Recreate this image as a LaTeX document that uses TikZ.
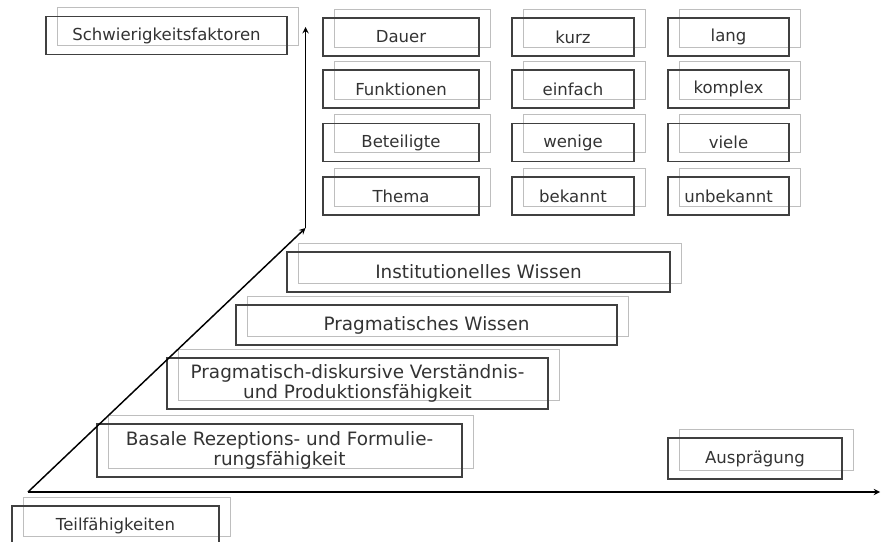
\documentclass[tikz,border=0pt]{standalone}
\usepackage{fontspec}
\setmainfont{DejaVu Sans}
\usetikzlibrary{shadows}

\definecolor{stufenrand}{RGB}{64,64,64}
\definecolor{stufenschatten}{RGB}{190,190,190}
\definecolor{stufentext}{RGB}{51,51,51}

\begin{document}
\begin{tikzpicture}[x=.75pt,y=-.75pt,>=stealth,
      faktor/.style={draw=stufenrand,line width=.9pt,text=stufentext,
        minimum height=28.5pt,inner sep=2pt,font=\fontsize{12.4}{15}\selectfont,
        copy shadow={shadow xshift=8.25pt,shadow yshift=6.75pt,
          draw=stufenschatten,line width=.6pt,fill=none}},
      stufe/.style={faktor,align=center,font=\fontsize{13.8}{14.6}\selectfont},
      achse/.style={->,line width=1.1pt,black}]
  \useasboundingbox (0,0) rectangle (881,542);
  % Schwierigkeitsfaktoren
  \node[faktor,minimum width=180.75pt] (schwierigkeit) at (166.5,35.5) {Schwierigkeitsfaktoren};
  \node[faktor,minimum width=117pt] (dauer) at (401,37) {Dauer};
  \node[faktor,minimum width=117pt] (funktionen) at (401,89) {Funktionen};
  \node[faktor,minimum width=117pt] (beteiligte) at (401,142.5) {Beteiligte};
  \node[faktor,minimum width=117pt] (thema) at (401,196) {Thema};
  \node[faktor,minimum width=91.5pt] (kurz) at (573,37) {kurz};
  \node[faktor,minimum width=91.5pt] (einfach) at (573,89) {einfach};
  \node[faktor,minimum width=91.5pt] (wenige) at (573,142.5) {wenige};
  \node[faktor,minimum width=91.5pt] (bekannt) at (573,196) {bekannt};
  \node[faktor,minimum width=90.75pt] (lang) at (728.5,37) {lang};
  \node[faktor,minimum width=90.75pt] (komplex) at (728.5,89) {komplex};
  \node[faktor,minimum width=90.75pt] (viele) at (728.5,142.5) {viele};
  \node[faktor,minimum width=90.75pt] (unbekannt) at (728.5,196) {unbekannt};
  % Stufen
  \node[stufe,minimum width=287.25pt,minimum height=30pt] (institutionell) at (478.5,272)
    {Institutionelles Wissen};
  \node[stufe,minimum width=285.75pt,minimum height=30pt] (pragmatisch) at (426.5,325)
    {Pragmatisches Wissen};
  \node[stufe,minimum width=285.75pt,minimum height=38.25pt] (diskursiv) at (357.5,383.5)
    {Pragmatisch-diskursive Verständnis-\\und Produktionsfähigkeit};
  \node[stufe,minimum width=273.75pt,minimum height=39.75pt] (basal) at (279.5,450.5)
    {Basale Rezeptions- und Formulie-\\rungsfähigkeit};
  \node[faktor,minimum width=130.5pt,minimum height=30.75pt] (auspraegung) at (755,458.5) {Ausprägung};
  \node[faktor,minimum width=155.25pt,minimum height=29.25pt] (teil) at (115.5,525.5) {Teilfähigkeiten};
  % Achsen
  \coordinate (ursprung) at (28,492);
  \coordinate (knick) at (305.5,228);
  \coordinate (spitze) at (305.5,27);
  \coordinate (ende) at (880,492);
  \draw[achse] (ursprung) -- (knick);
  \draw[achse] (knick) -- (spitze);
  \draw[achse] (ursprung) -- (ende);
\end{tikzpicture}
\end{document}
